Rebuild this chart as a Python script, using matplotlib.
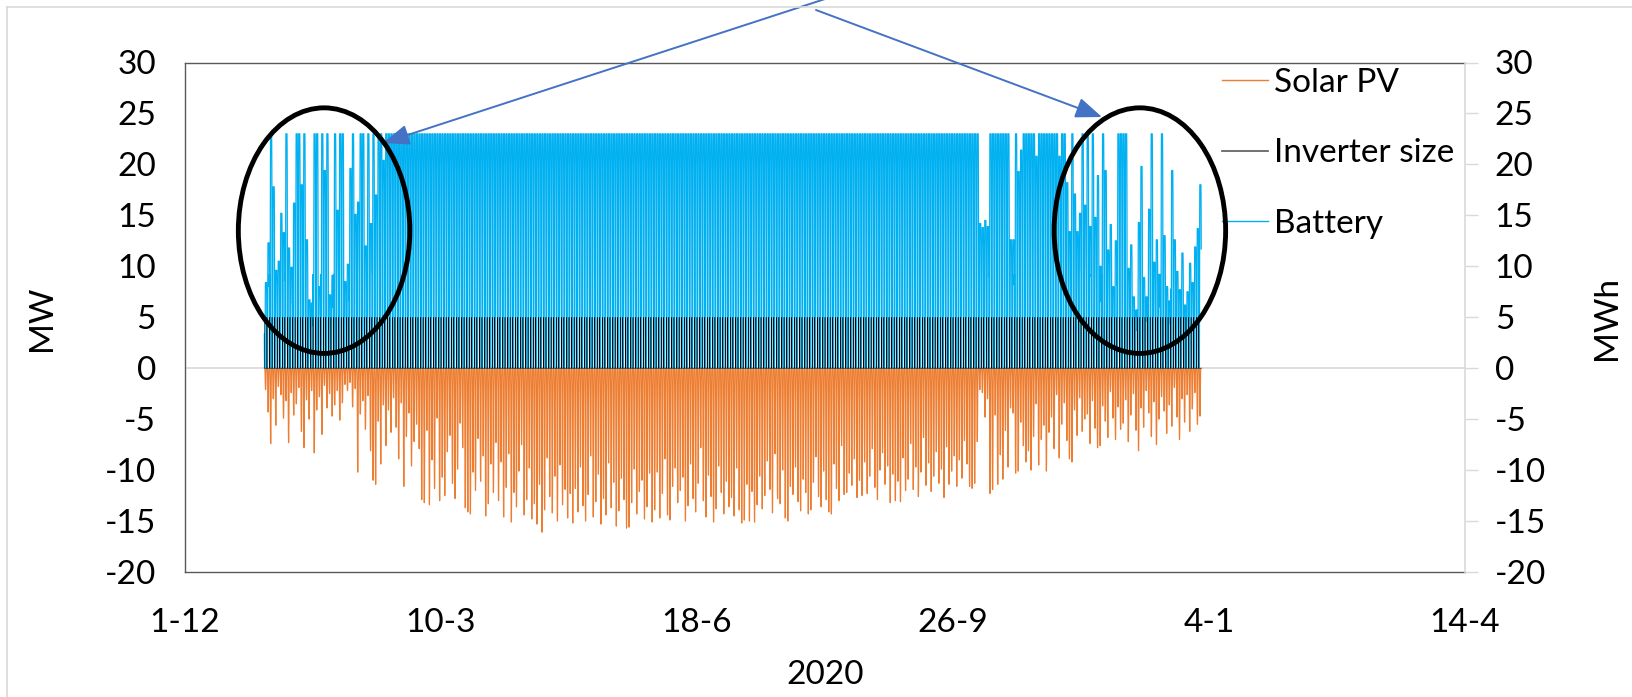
import numpy as np
import pandas as pd
import matplotlib
matplotlib.use("Agg")
import matplotlib.pyplot as plt
import matplotlib.dates as mdates
from matplotlib.patches import Ellipse
from matplotlib.lines import Line2D

plt.rcParams['font.family'] = ['Lato', 'DejaVu Sans']
plt.rcParams['axes.unicode_minus'] = False
plt.rcParams['path.simplify'] = False

# daily peak PV output in MW (drawn below zero), one list per month of 2020
solar_jan = [2.1, 4.3, 7.4, 3.0, 5.6, 1.8, 2.6, 4.9, 3.2, 7.3, 2.4, 4.6, 3.5, 1.9, 6.2, 7.8,
             3.1, 5.0, 2.2, 8.3, 4.1, 2.8, 6.5, 1.7, 3.9, 2.5, 4.7, 3.6, 2.2, 5.1, 3.4]
solar_feb = [1.6, 2.2, 1.4, 3.8, 2.0, 10.2, 4.5, 3.2, 6.0, 2.7, 8.1, 11.0, 11.4, 5.2, 9.4,
             3.6, 7.6, 4.1, 6.3, 2.9, 5.8, 8.9, 3.4, 11.6, 6.7, 4.4, 9.6, 7.2, 5.5]
solar_mar = [7.9, 12.9, 13.2, 6.1, 13.4, 9.0, 11.8, 4.9, 13.0, 10.7, 12.5, 8.2, 6.6, 11.3, 12.8,
             9.9, 5.4, 7.8, 13.7, 14.1, 14.3, 10.2, 12.0, 6.9, 11.1, 8.6, 14.5, 13.3, 9.4, 12.2, 7.3]
solar_apr = [13.0, 9.2, 14.6, 11.7, 8.4, 15.1, 12.2, 13.6, 10.1, 7.5, 14.4, 12.9, 9.8, 14.8, 13.3,
             15.3, 11.4, 16.1, 13.9, 8.8, 12.6, 14.2, 10.6, 15.0, 9.5, 13.4, 11.9, 14.7, 12.3, 15.2]
solar_may = [11.8, 14.1, 9.7, 13.5, 15.0, 12.4, 8.6, 14.6, 13.1, 10.4, 15.3, 12.8, 14.4, 9.3, 13.7,
             11.2, 15.5, 14.0, 10.8, 12.9, 15.7, 15.6, 13.2, 9.9, 14.3, 12.1, 11.0, 14.8, 13.6, 10.3, 15.1]
solar_jun = [13.9, 10.2, 14.7, 12.3, 8.9, 14.4, 14.9, 11.6, 9.8, 13.2, 12.0, 10.7, 15.0, 13.5, 9.4,
             12.8, 14.1, 11.3, 7.8, 13.0, 14.6, 10.5, 12.6, 15.1, 13.8, 9.6, 12.2, 14.3, 11.1, 13.6]
solar_jul = [12.7, 14.5, 9.8, 13.9, 15.2, 14.9, 11.4, 15.0, 12.1, 15.1, 13.4, 10.6, 13.8, 12.5, 9.1,
             11.9, 14.2, 8.4, 12.8, 13.3, 10.0, 14.7, 15.0, 11.6, 12.4, 9.7, 13.1, 14.0, 10.9, 12.2, 14.3]
solar_aug = [13.9, 11.2, 8.7, 12.6, 13.6, 10.1, 12.9, 14.1, 14.3, 9.4, 11.8, 13.0, 7.6, 12.4, 12.2,
             10.3, 11.5, 8.9, 12.7, 11.0, 12.5, 9.2, 12.3, 10.6, 7.9, 11.7, 12.9, 10.0, 8.3, 11.4, 9.6]
solar_sep = [13.2, 10.4, 13.0, 11.1, 13.1, 8.8, 12.0, 10.9, 7.4, 11.9, 9.7, 12.6, 10.2, 6.8, 11.5,
             9.3, 12.1, 10.6, 8.2, 11.3, 9.9, 12.7, 7.7, 11.4, 10.1, 8.6, 11.6, 9.0, 10.8, 7.1]
solar_oct = [9.4, 11.6, 11.8, 11.3, 7.2, 2.1, 2.4, 4.8, 3.0, 12.3, 11.9, 4.6, 11.4, 8.5, 10.9,
             6.1, 9.7, 3.9, 4.4, 10.3, 10.1, 5.3, 7.6, 9.2, 8.1, 10.0, 6.7, 3.5, 9.5, 7.0, 5.6]
solar_nov = [10.1, 6.3, 4.8, 7.9, 2.6, 8.8, 5.5, 3.4, 7.1, 8.9, 9.2, 4.1, 6.6, 2.9, 6.2,
             5.0, 4.5, 7.4, 3.2, 5.9, 7.8, 7.6, 3.7, 5.2, 6.8, 2.3, 4.9, 7.0, 3.8, 6.0]
solar_dec = [5.4, 3.1, 7.2, 4.6, 2.5, 6.1, 8.1, 3.9, 5.8, 2.2, 4.4, 6.7, 3.3, 7.5, 5.0, 2.8,
             4.2, 6.4, 3.6, 5.7, 1.9, 4.8, 7.0, 3.0, 5.3, 2.6, 6.2, 4.0, 2.4, 5.5, 4.7]

# daily peak battery state of charge in MWh
battery_jan = [8.4, 12.3, 23, 17.8, 9.6, 10.5, 15.2, 13.3, 23, 11.8, 9.9, 16.2, 23, 23, 18.0, 23,
               12.6, 6.7, 6.4, 23, 23, 8.0, 23, 19.4, 23, 7.2, 9.1, 23, 15.5, 23, 23]
battery_feb = [8.5, 10.2, 19.6, 23, 15.1, 16.3, 23, 23, 12.0, 23, 14.2, 23, 17.0, 23, 23,
               20.4, 23, 23, 23, 23, 23, 23, 23, 23, 23, 23, 23, 23, 23]
battery_mar = [23, 23, 23, 23, 23, 23, 23, 23, 23, 23, 23, 23, 23, 23, 23, 23,
               23, 23, 23, 23, 23, 23, 23, 23, 23, 23, 23, 23, 23, 23, 23]
battery_apr = [23, 23, 23, 23, 23, 23, 23, 23, 23, 23, 23, 23, 23, 23, 23,
               23, 23, 23, 23, 23, 23, 23, 23, 23, 23, 23, 23, 23, 23, 23]
battery_may = [23, 23, 23, 23, 23, 23, 23, 23, 23, 23, 23, 23, 23, 23, 23, 23,
               23, 23, 23, 23, 23, 23, 23, 23, 23, 23, 23, 23, 23, 23, 23]
battery_jun = [23, 23, 23, 23, 23, 23, 23, 23, 23, 23, 23, 23, 23, 23, 23,
               23, 23, 23, 23, 23, 23, 23, 23, 23, 23, 23, 23, 23, 23, 23]
battery_jul = [23, 23, 23, 23, 23, 23, 23, 23, 23, 23, 23, 23, 23, 23, 23, 23,
               23, 23, 23, 23, 23, 23, 23, 23, 23, 23, 23, 23, 23, 23, 23]
battery_aug = [23, 23, 23, 23, 23, 23, 23, 23, 23, 23, 23, 23, 23, 23, 23, 23,
               23, 23, 23, 23, 23, 23, 23, 23, 23, 23, 23, 23, 23, 23, 23]
battery_sep = [23, 23, 23, 23, 23, 23, 23, 23, 23, 23, 23, 23, 23, 23, 23,
               23, 23, 23, 23, 23, 23, 23, 23, 23, 23, 23, 23, 23, 23, 23]
battery_oct = [23, 23, 23, 23, 23, 14.2, 13.8, 14.5, 13.9, 23, 23, 23, 23, 23, 23, 23,
               23, 12.6, 12.6, 23, 19.3, 21.4, 23, 23, 23, 23, 23, 20.8, 23, 23, 23]
battery_nov = [23, 23, 23, 23, 23, 20.8, 23, 23, 18.2, 13.4, 23, 17.1, 13.4, 15.2, 23,
               16.0, 23, 13.9, 23, 14.8, 18.9, 10.0, 23, 19.4, 11.6, 14.1, 8.0, 12.5, 23, 23]
battery_dec = [23, 23, 9.8, 12.1, 7.0, 5.7, 14.3, 19.8, 8.9, 7.0, 15.6, 23, 10.4, 12.6, 9.2, 23,
               13.0, 8.0, 6.6, 19.4, 12.6, 9.5, 7.7, 11.3, 6.2, 7.5, 10.3, 8.4, 11.9, 13.7, 18.0]

inverter_size = 5.0  # MW

# hour-by-hour shape of a day, as a fraction of that day's peak
solar_profile = [0, 0, 0, 0, 0, 0.03, 0.12, 0.3, 0.55, 0.78, 0.93, 1.0,
                 1.0, 0.93, 0.78, 0.55, 0.3, 0.12, 0.03, 0, 0, 0, 0, 0]
battery_profile = [0.4, 0.15, 0, 0, 0, 0, 0.05, 0.3, 0.6, 0.85, 1.0, 1.0,
                   1.0, 1.0, 1.0, 1.0, 1.0, 1.0, 1.0, 1.0, 1.0, 0.95, 0.85, 0.65]
inverter_profile = [1, 0, 0, 0, 0, 0, 0, 0, 0, 0, 0, 0,
                    0, 0, 0, 0, 0, 0, 0, 0, 0, 0, 0, 0]

x_ticks = ["2019-12-01", "2020-03-10", "2020-06-18", "2020-09-26", "2021-01-04", "2021-04-14"]
y_ticks = [-20, -15, -10, -5, 0, 5, 10, 15, 20, 25, 30]

solar_months = [solar_jan, solar_feb, solar_mar, solar_apr, solar_may, solar_jun,
                solar_jul, solar_aug, solar_sep, solar_oct, solar_nov, solar_dec]
battery_months = [battery_jan, battery_feb, battery_mar, battery_apr, battery_may, battery_jun,
                  battery_jul, battery_aug, battery_sep, battery_oct, battery_nov, battery_dec]

solar_daily = np.concatenate(solar_months)
battery_daily = np.concatenate(battery_months)
n_days = len(solar_daily)

hours = pd.date_range("2020-01-01", periods=n_days * 24, freq="h")
x = mdates.date2num(hours)
solar = -np.outer(solar_daily, solar_profile).ravel()
battery = np.outer(battery_daily, battery_profile).ravel()
inverter = np.outer(np.full(n_days, inverter_size), inverter_profile).ravel()

W, H = 1633, 697
FS = 24
fig = plt.figure(figsize=(W / 100, H / 100), dpi=100)
ax = fig.add_axes([185 / W, 1 - 572 / H, 1280 / W, (572 - 62.5) / H])

orange = "#ED7D31"
blue = "#00B0F0"
dark = "#595959"
light = "#D9D9D9"

ax.axhline(0, color=light, lw=1.2, zorder=0)
l_solar, = ax.plot(x, solar, color=orange, lw=0.85, zorder=2)
l_batt, = ax.plot(x, battery, color=blue, lw=0.9, zorder=3)
l_inv, = ax.plot(x, inverter, color="black", lw=0.35, zorder=4)

ax.set_xlim(mdates.date2num(pd.Timestamp(x_ticks[0])), mdates.date2num(pd.Timestamp(x_ticks[-1])))
ax.set_ylim(-20, 30)
ax.set_xticks(mdates.date2num(pd.to_datetime(x_ticks)))
ax.set_xticklabels([f"{d.day}-{d.month}" for d in pd.to_datetime(x_ticks)])
ax.set_yticks(y_ticks)
ax.tick_params(axis="x", length=0, pad=26, labelsize=FS)
ax.tick_params(axis="y", length=0, pad=21, labelsize=FS)
for side in ["left", "top", "bottom"]:
    ax.spines[side].set_color(dark)
    ax.spines[side].set_linewidth(1.0)
ax.spines["right"].set_visible(False)

# secondary axis on the right (MWh)
ax2 = ax.twinx()
ax2.set_ylim(-20, 30)
ax2.set_yticks(y_ticks)
ax2.tick_params(axis="y", length=9.4, width=1, color=light, pad=12, labelsize=FS)
for side in ["left", "top", "bottom"]:
    ax2.spines[side].set_visible(False)
ax2.spines["right"].set_color(light)
ax2.spines["right"].set_linewidth(1.2)

fig.text(42 / W, 1 - 318 / H, "MW", rotation=90, ha="center", va="center", fontsize=FS)
fig.text(1607 / W, 1 - 318 / H, "MWh", rotation=90, ha="center", va="center", fontsize=FS)
fig.text(825 / W, 1 - 675 / H, "2020", ha="center", va="center", fontsize=FS)

legend_handles = [Line2D([], [], color=orange, lw=1.0),
                  Line2D([], [], color=dark, lw=1.2),
                  Line2D([], [], color=blue, lw=1.0)]
ax2.legend(legend_handles, ["Solar PV", "Inverter size", "Battery"],
           loc="upper left", bbox_to_anchor=(1222 / W, 1 - 68 / H), bbox_transform=fig.transFigure,
           frameon=False, fontsize=FS, handlelength=1.38, handletextpad=0.18,
           labelspacing=1.21, borderpad=0, borderaxespad=0)

# circles around the winter months
for centre in ["2020-01-24 08:00", "2020-12-08 00:00"]:
    ax2.add_patch(Ellipse((mdates.date2num(pd.Timestamp(centre)), 13.5), width=67, height=24.1,
                          fill=False, ec="black", lw=3.5, zorder=10, clip_on=False))

arrow_style = dict(arrowstyle="-|>,head_length=0.9,head_width=0.35", color="#4472C4",
                   lw=1.4, shrinkA=0, shrinkB=0, mutation_scale=18)
ax2.annotate("", xy=(383, H - 143), xycoords="figure pixels", xytext=(825, H + 1),
             textcoords="figure pixels", arrowprops=arrow_style, annotation_clip=False)
ax2.annotate("", xy=(1102, H - 117), xycoords="figure pixels", xytext=(816, H - 10),
             textcoords="figure pixels", arrowprops=arrow_style, annotation_clip=False)

# outer chart frame
fig.add_artist(Line2D([7 / W, 7 / W], [0, 1 - 7 / H], color=light, lw=1.2))
fig.add_artist(Line2D([7 / W, 1], [1 - 7 / H, 1 - 7 / H], color=light, lw=1.2))

fig.savefig("out.png", dpi=100)
